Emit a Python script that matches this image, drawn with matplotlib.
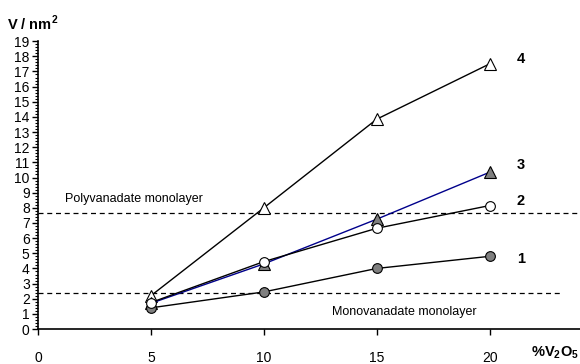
import numpy as np
import matplotlib
matplotlib.use("Agg")
import matplotlib.pyplot as plt
from matplotlib.ticker import MultipleLocator

plt.rcParams['font.family'] = ['Liberation Sans', 'DejaVu Sans']
plt.rcParams['mathtext.fontset'] = 'custom'
plt.rcParams['mathtext.rm'] = 'Liberation Sans'
plt.rcParams['mathtext.bf'] = 'Liberation Sans:bold'

# Data
x = [5, 10, 15, 20]
s1 = [1.4, 2.45, 4.0, 4.8]
s2 = [1.75, 4.45, 6.65, 8.15]
s3 = [1.7, 4.3, 7.25, 10.35]
s4 = [2.2, 8.0, 13.85, 17.5]
poly_level = 7.65
mono_level = 2.4

fig = plt.figure(figsize=(5.8, 3.64), dpi=100)
ax = fig.add_axes([0.0655, 0.096, 0.9345, 0.791])

ax.plot(x, s4, color='black', lw=1, marker='^', ms=8, mfc='white', mec='black', mew=0.8, zorder=3)
ax.plot(x, s3, color='#00008B', lw=1, marker='^', ms=8, mfc='#7f7f7f', mec='black', mew=0.8, zorder=3)
ax.plot(x, s2, color='black', lw=1, marker='o', ms=7, mfc='white', mec='black', mew=0.8, zorder=4)
ax.plot(x, s1, color='black', lw=1, marker='o', ms=7, mfc='#7f7f7f', mec='black', mew=0.8, zorder=3)

ax.plot([0, 23.9], [poly_level, poly_level], color='black', lw=0.9, ls=(0, (4, 3)))
ax.plot([0, 23.1], [mono_level, mono_level], color='black', lw=0.9, ls=(0, (4, 3)))

ax.text(1.2, poly_level + 0.9, "Polyvanadate monolayer", fontsize=9, va='center')
ax.text(13.0, mono_level - 1.3, "Monovanadate monolayer", fontsize=9, va='center')

labels = ['1', '2', '3', '4']
ypos = [s1[-1] - 0.2, s2[-1] + 0.3, s3[-1] + 0.5, s4[-1] + 0.3]
for lab, yy in zip(labels, ypos):
    ax.text(21.2, yy, lab, fontsize=10.5, fontweight='bold', va='center')

ax.set_xlim(0, 24)
ax.set_ylim(0, 19)
ax.set_xticks([0, 5, 10, 15, 20])
ax.set_yticks(np.arange(0, 20, 1))
ax.yaxis.set_minor_locator(MultipleLocator(0.2))
ax.tick_params(axis='both', labelsize=10, length=4, width=1)
ax.tick_params(axis='x', pad=12)
ax.tick_params(axis='y', which='minor', length=2.5, width=0.8)
ax.tick_params(axis='y', pad=2)

for s in ['top', 'right']:
    ax.spines[s].set_visible(False)
ax.spines['left'].set_linewidth(1.2)
ax.spines['bottom'].set_linewidth(1.2)

fig.text(0.012, 0.935, r"V / nm$^\mathbf{2}$", fontsize=10.5, fontweight='bold', va='center')
fig.text(0.998, 0.03, r"%V$_\mathbf{2}$O$_\mathbf{5}$", fontsize=10.5, fontweight='bold',
         va='center', ha='right')

fig.savefig("out.png", dpi=100)
